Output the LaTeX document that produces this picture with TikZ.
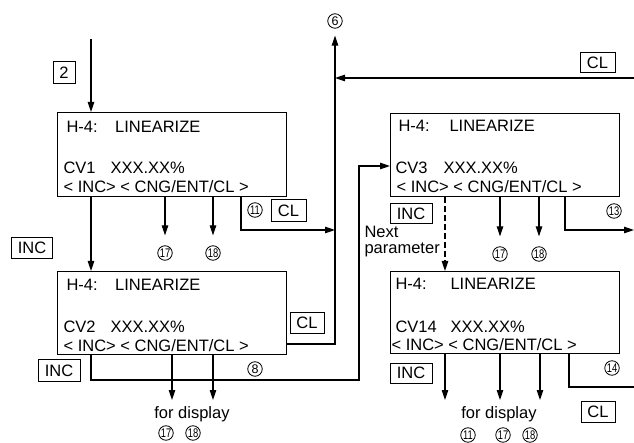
\documentclass[tikz,border=0pt]{standalone}
\usepackage{fontspec}
\setmainfont{Liberation Sans}
\usetikzlibrary{arrows.meta,calc}
\begin{document}
\begin{tikzpicture}[x=1pt,y=-1pt,
  line width=1.1pt,
  font=\fontsize{16.5}{18}\selectfont,
  lcd/.style={draw, line width=1.2pt, anchor=north west, inner sep=0pt},
  txt/.style={anchor=base west, inner sep=0pt},
  key/.style={draw, line width=1pt, inner sep=0pt, minimum height=21.5pt},
  circ/.style={circle, draw, line width=0.8pt, inner sep=0pt, minimum size=14.5pt, font=\fontsize{12.5}{12.5}\selectfont},
  arr/.style={-{Triangle[length=10pt,width=6.5pt]}},
  dsh/.style={dash pattern=on 6pt off 3pt},
]
\useasboundingbox (0,0) rectangle (634,443);

% LCD boxes
\node[lcd, minimum width=229pt, minimum height=84pt] (b1) at (57,112) {};
\node[lcd, minimum width=229pt, minimum height=83pt] (b2) at (57,271) {};
\node[lcd, minimum width=229pt, minimum height=83pt] (b3) at (390,113) {};
\node[lcd, minimum width=229pt, minimum height=82pt] (b4) at (390,271) {};

% box texts
\node[txt] (b1h) at (66,133) {\makebox[48.6pt][l]{H-4:}LINEARIZE};
\node[txt] (b1c) at (63,174) {\makebox[47pt][l]{CV1}XXX.XX\%};
\node[txt] (b1i) at (63,193) {< INC> < CNG/ENT/CL >};

\node[txt] (b2h) at (66,291) {\makebox[48.6pt][l]{H-4:}LINEARIZE};
\node[txt] (b2c) at (63,332) {\makebox[47pt][l]{CV2}XXX.XX\%};
\node[txt] (b2i) at (63,351) {< INC> < CNG/ENT/CL >};

\node[txt] (b3h) at (398,132) {\makebox[51pt][l]{H-4:}LINEARIZE};
\node[txt] (b3c) at (395,174) {\makebox[48pt][l]{CV3}XXX.XX\%};
\node[txt] (b3i) at (396,193) {< INC> < CNG/ENT/CL >};

\node[txt] (b4h) at (395,290) {\makebox[55pt][l]{H-4:}LINEARIZE};
\node[txt] (b4c) at (395,332) {\makebox[55pt][l]{CV14}XXX.XX\%};
\node[txt] (b4i) at (391,350) {< INC> < CNG/ENT/CL >};

% key labels
\node[key, minimum width=22pt] (k2) at (64,72.5) {2};
\node[key, minimum width=35pt] (kcl1) at (288.5,210.5) {CL};
\node[key, minimum width=41pt] (kinc1) at (32,248) {INC};
\node[key, minimum width=34pt] (kcl2) at (307,323) {CL};
\node[key, minimum width=42pt] (kinc2) at (59,370.5) {INC};
\node[key, minimum width=35pt, minimum height=20pt] (kcl3) at (597.5,63) {CL};
\node[key, minimum width=42pt, minimum height=20pt] (kinc3) at (411,214) {INC};
\node[key, minimum width=42pt, minimum height=20pt] (kinc4) at (411,373) {INC};
\node[key, minimum width=34pt] (kcl4) at (598,412) {CL};

% circled numbers
\node[circ] (n6) at (335,21) {6};
\node[circ] (n11a) at (255,210) {\scalebox{.75}[1]{11}};
\node[circ] (c17a) at (165,253) {\scalebox{.75}[1]{17}};
\node[circ] (c18a) at (213,253) {\scalebox{.75}[1]{18}};
\node[circ] (n8) at (255,369) {8};
\node[circ] (c17b) at (166,433) {\scalebox{.75}[1]{17}};
\node[circ] (c18b) at (193,433) {\scalebox{.75}[1]{18}};
\node[circ] (c17c) at (500,254) {\scalebox{.75}[1]{17}};
\node[circ] (c18c) at (539,254) {\scalebox{.75}[1]{18}};
\node[circ] (n13) at (614,211) {\scalebox{.75}[1]{13}};
\node[circ] (n14) at (612,368) {\scalebox{.75}[1]{14}};
\node[circ] (c11d) at (468,435) {\scalebox{.75}[1]{11}};
\node[circ] (c17d) at (503,435) {\scalebox{.75}[1]{17}};
\node[circ] (c18d) at (530,435) {\scalebox{.75}[1]{18}};

% plain labels
\node[anchor=base, inner sep=0pt] (fd1) at (192,418) {for display};
\node[anchor=base, inner sep=0pt] (fd2) at (499,418) {for display};
\node[txt] (np1) at (364,238) {Next};
\node[txt] (np2) at (364,254) {parameter};

% coordinates
\coordinate (in1) at (91,39);
\coordinate (e1) at (241,230);
\coordinate (bus2) at (335,344);
\coordinate (clR) at (634,78);
\coordinate (lp) at (359,380);
\coordinate (lp2) at (359,166);
\coordinate (ds) at (445,200);
\coordinate (e3) at (565,230);
\coordinate (e3r) at (634,230);
\coordinate (e4) at (569,387);
\coordinate (e4r) at (634,387);
\coordinate (d1) at (172,400);
\coordinate (d2) at (213,400);
\coordinate (d3) at (445,400);
\coordinate (d4) at (500,400);
\coordinate (d5) at (540,400);

% connectors
\draw[arr] (in1) -- (in1 |- b1.north);
\draw[arr] (in1 |- b1.south) -- (in1 |- b2.north);
\draw[arr, shorten >=10pt] (c17a |- b1.south) -- (c17a.north);
\draw[arr, shorten >=10pt] (c18a |- b1.south) -- (c18a.north);
\draw[arr] (e1 |- b1.south) -- (e1) -- (n6 |- e1);
\draw[arr, shorten >=7pt] (b2.east |- bus2) -- (bus2) -- (n6.south);
\draw[arr] (clR) -- (n6 |- clR);
\draw[arr] (in1 |- b2.south) -- (in1 |- lp) -- (lp) -- (lp2) -- (b3.west |- lp2);
\draw[arr] (d1 |- b2.south) -- (d1);
\draw[arr] (d2 |- b2.south) -- (d2);
\draw[arr, dsh] (ds |- b3.south) -- (ds |- b4.north);
\draw[arr, shorten >=10pt] (c17c |- b3.south) -- (c17c.north);
\draw[arr, shorten >=10pt] (c18c |- b3.south) -- (c18c.north);
\draw[arr] (e3 |- b3.south) -- (e3) -- (e3r);
\draw (e4 |- b4.south) -- (e4) -- (e4r);
\draw[arr] (d3 |- b4.south) -- (d3);
\draw[arr] (d4 |- b4.south) -- (d4);
\draw[arr] (d5 |- b4.south) -- (d5);
\end{tikzpicture}
\end{document}
